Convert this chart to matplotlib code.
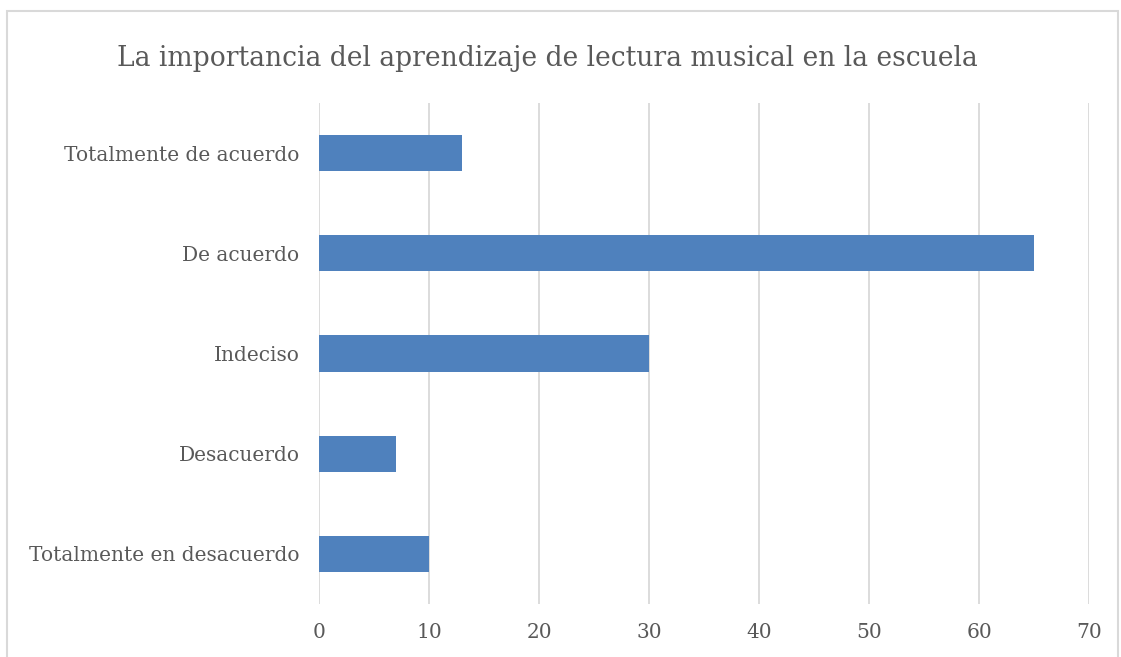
import matplotlib
matplotlib.use("Agg")
import matplotlib.pyplot as plt
from matplotlib.patches import Rectangle

categories = ["Totalmente de acuerdo", "De acuerdo", "Indeciso", "Desacuerdo", "Totalmente en desacuerdo"]
values = [13, 65, 30, 7, 10]
xticks = [0, 10, 20, 30, 40, 50, 60, 70]
title = "La importancia del aprendizaje de lectura musical en la escuela"

plt.rcParams['font.family'] = ['DejaVu Serif']
text_color = "#595959"

fig = plt.figure(figsize=(11.21, 6.57), dpi=100)
W, H = 1121, 657
# outer chart border
fig.patches.append(Rectangle((7 / W, -0.01), (1118 - 7) / W, (657 - 11) / H + 0.01,
                             transform=fig.transFigure, fill=False,
                             edgecolor="#D9D9D9", linewidth=1.5))

ax = fig.add_axes([319 / W, 1 - 604 / H, (1089 - 319) / W, (604 - 103) / H])
ypos = list(range(len(categories)))[::-1]
ax.barh(ypos, values, height=0.36, color="#4F81BD", zorder=3)
ax.set_xlim(0, 70)
ax.set_ylim(-0.5, 4.5)
ax.set_xticks(xticks)
ax.set_yticks(ypos)
ax.set_yticklabels(categories)
ax.grid(axis="x", color="#D9D9D9", linewidth=1.3, zorder=0)
for s in ax.spines.values():
    s.set_visible(False)
ax.tick_params(axis="both", length=0, colors=text_color, labelsize=14.5)
ax.tick_params(axis="x", pad=14)
ax.tick_params(axis="y", pad=14)
fig.text(547 / W, 1 - 58 / H, title, ha="center", va="center", fontsize=19.1, color=text_color)

fig.savefig("out.png", dpi=100)
